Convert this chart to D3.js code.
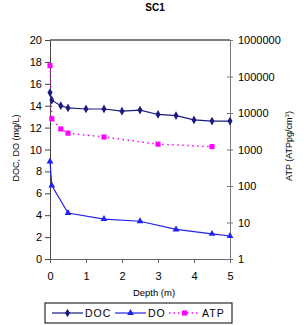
<!DOCTYPE html>
<html>
<head>
<meta charset="utf-8">
<script src="https://cdn.jsdelivr.net/npm/d3@7"></script>
<style>
  body { margin: 0; background: #fff; }
  text { font-family: "Liberation Sans", Arial, sans-serif; fill: #000; }
</style>
</head>
<body>
<script>
// SC1 - DOC / DO on the left axis, ATP on a log right axis

var depthDOC = [0, 0.05, 0.3, 0.5, 1, 1.5, 2, 2.5, 3, 3.5, 4, 4.5, 5];
var docValues = [15.2, 14.5, 14.0, 13.8, 13.7, 13.7, 13.5, 13.6, 13.2, 13.1, 12.7, 12.6, 12.6];

var depthDO = [0, 0.05, 0.5, 1.5, 2.5, 3.5, 4.5, 5];
var doValues = [8.9, 6.7, 4.2, 3.65, 3.45, 2.7, 2.3, 2.1];

var depthATP = [0, 0.05, 0.3, 0.5, 1.5, 3, 4.5];
var atpValues = [198000, 6900, 3650, 2800, 2200, 1400, 1200];

var xTicks = [0, 1, 2, 3, 4, 5];
var leftTicks = [0, 2, 4, 6, 8, 10, 12, 14, 16, 18, 20];
var rightTicks = [1, 10, 100, 1000, 10000, 100000, 1000000];

var margin = { top: 40, right: 78, bottom: 66, left: 50 };
var width = 308 - margin.left - margin.right,
    height = 325 - margin.top - margin.bottom;

var svg = d3.select("body").append("svg")
    .attr("width", 308)
    .attr("height", 325);

var g = svg.append("g")
    .attr("transform", "translate(" + margin.left + "," + margin.top + ")");

var xScale = d3.scaleLinear().domain([0, 5]).range([0, width]);
var yLeft = d3.scaleLinear().domain([0, 20]).range([height, 0]);
var yRight = d3.scaleLog().domain([1, 1000000]).range([height, 0]);

// title
svg.append("text")
    .attr("x", 155).attr("y", 11)
    .attr("text-anchor", "middle")
    .attr("font-size", "10px")
    .attr("font-weight", "bold")
    .text("SC1");

// top border of plot area
g.append("line")
    .attr("x1", 0).attr("x2", width)
    .attr("y1", 0).attr("y2", 0)
    .attr("stroke", "#000");

// axes
var xAxis = g.append("g")
    .attr("transform", "translate(0," + height + ")")
    .call(d3.axisBottom(xScale).tickValues(xTicks).tickFormat(d3.format("d"))
        .tickSize(4).tickSizeOuter(0).tickPadding(9));

var leftAxis = g.append("g")
    .call(d3.axisLeft(yLeft).tickValues(leftTicks).tickSize(5).tickSizeOuter(0).tickPadding(3));

var rightAxis = g.append("g")
    .attr("transform", "translate(" + width + ",0)")
    .call(d3.axisRight(yRight).tickValues(rightTicks).tickFormat(d3.format("d")).tickSize(3).tickSizeOuter(0).tickPadding(5));

// right axis ticks cross the line
rightAxis.selectAll(".tick line").attr("x1", -3);

[xAxis, leftAxis, rightAxis].forEach(function (a) {
    a.selectAll("text")
        .attr("font-family", "Liberation Sans, Arial, sans-serif")
        .attr("font-size", "11px")
        .attr("fill", "#000");
});
xAxis.selectAll("path, line").attr("stroke", "#666");
leftAxis.selectAll("path, line").attr("stroke", "#444");
rightAxis.selectAll("path, line").attr("stroke", "#777");

// axis titles
svg.append("text")
    .attr("transform", "translate(19,148) rotate(-90)")
    .attr("text-anchor", "middle")
    .attr("font-size", "9px")
    .text("DOC, DO (mg/L)");

var rt = svg.append("text")
    .attr("transform", "translate(292,146) rotate(-90)")
    .attr("text-anchor", "middle")
    .attr("font-size", "9px");
rt.append("tspan").text("ATP (ATPpg/cm");
rt.append("tspan").attr("dy", -3).attr("font-size", "6px").text("3");
rt.append("tspan").attr("dy", 3).text(")");

svg.append("text")
    .attr("x", 154).attr("y", 296)
    .attr("text-anchor", "middle")
    .attr("font-size", "9.5px")
    .text("Depth (m)");

// series
var docColor = "#1a1a80", doColor = "#2222ee", atpColor = "#ff00ff";

var docData = depthDOC.map(function (d, i) { return { x: d, y: docValues[i] }; });
var doData = depthDO.map(function (d, i) { return { x: d, y: doValues[i] }; });
var atpData = depthATP.map(function (d, i) { return { x: d, y: atpValues[i] }; });

var lineLeft = d3.line()
    .x(function (d) { return xScale(d.x); })
    .y(function (d) { return yLeft(d.y); });
var lineRight = d3.line()
    .x(function (d) { return xScale(d.x); })
    .y(function (d) { return yRight(d.y); });

g.append("path").datum(atpData)
    .attr("d", lineRight)
    .attr("fill", "none")
    .attr("stroke", atpColor)
    .attr("stroke-width", 1.5)
    .attr("stroke-dasharray", "1.5,3.5");

g.append("path").datum(docData)
    .attr("d", lineLeft)
    .attr("fill", "none")
    .attr("stroke", docColor)
    .attr("stroke-width", 1.2);

g.append("path").datum(doData)
    .attr("d", lineLeft)
    .attr("fill", "none")
    .attr("stroke", doColor)
    .attr("stroke-width", 1.2);

var diamond = d3.symbol().type(d3.symbolDiamond).size(22);
var triangle = d3.symbol().type(d3.symbolTriangle).size(20);
var square = d3.symbol().type(d3.symbolSquare).size(26);

g.selectAll(".docpt").data(docData).enter().append("path")
    .attr("class", "docpt")
    .attr("d", diamond)
    .attr("transform", function (d) { return "translate(" + xScale(d.x) + "," + yLeft(d.y) + ")"; })
    .attr("fill", docColor);

g.selectAll(".dopt").data(doData).enter().append("path")
    .attr("class", "dopt")
    .attr("d", triangle)
    .attr("transform", function (d) { return "translate(" + xScale(d.x) + "," + yLeft(d.y) + ")"; })
    .attr("fill", doColor);

g.selectAll(".atppt").data(atpData).enter().append("path")
    .attr("class", "atppt")
    .attr("d", square)
    .attr("transform", function (d) { return "translate(" + xScale(d.x) + "," + yRight(d.y) + ")"; })
    .attr("fill", atpColor);

// legend
var legend = svg.append("g").attr("transform", "translate(45,303)");
legend.append("rect")
    .attr("width", 187).attr("height", 20)
    .attr("fill", "#fff")
    .attr("stroke", "#000");

var items = [
    { name: "DOC", color: docColor, sym: diamond, dash: null, x0: 7 },
    { name: "DO", color: doColor, sym: triangle, dash: null, x0: 70 },
    { name: "ATP", color: atpColor, sym: square, dash: "1.5,3", x0: 124 }
];

items.forEach(function (it) {
    legend.append("line")
        .attr("x1", it.x0).attr("x2", it.x0 + 31)
        .attr("y1", 10).attr("y2", 10)
        .attr("stroke", it.color)
        .attr("stroke-width", it.dash ? 1.5 : 1.2)
        .attr("stroke-dasharray", it.dash);
    legend.append("path")
        .attr("d", it.sym)
        .attr("transform", "translate(" + (it.x0 + 15.5) + ",10)")
        .attr("fill", it.color);
    legend.append("text")
        .attr("x", it.x0 + 33).attr("y", 14)
        .attr("font-size", "10.5px")
        .attr("letter-spacing", "1px")
        .text(it.name);
});
</script>
</body>
</html>
